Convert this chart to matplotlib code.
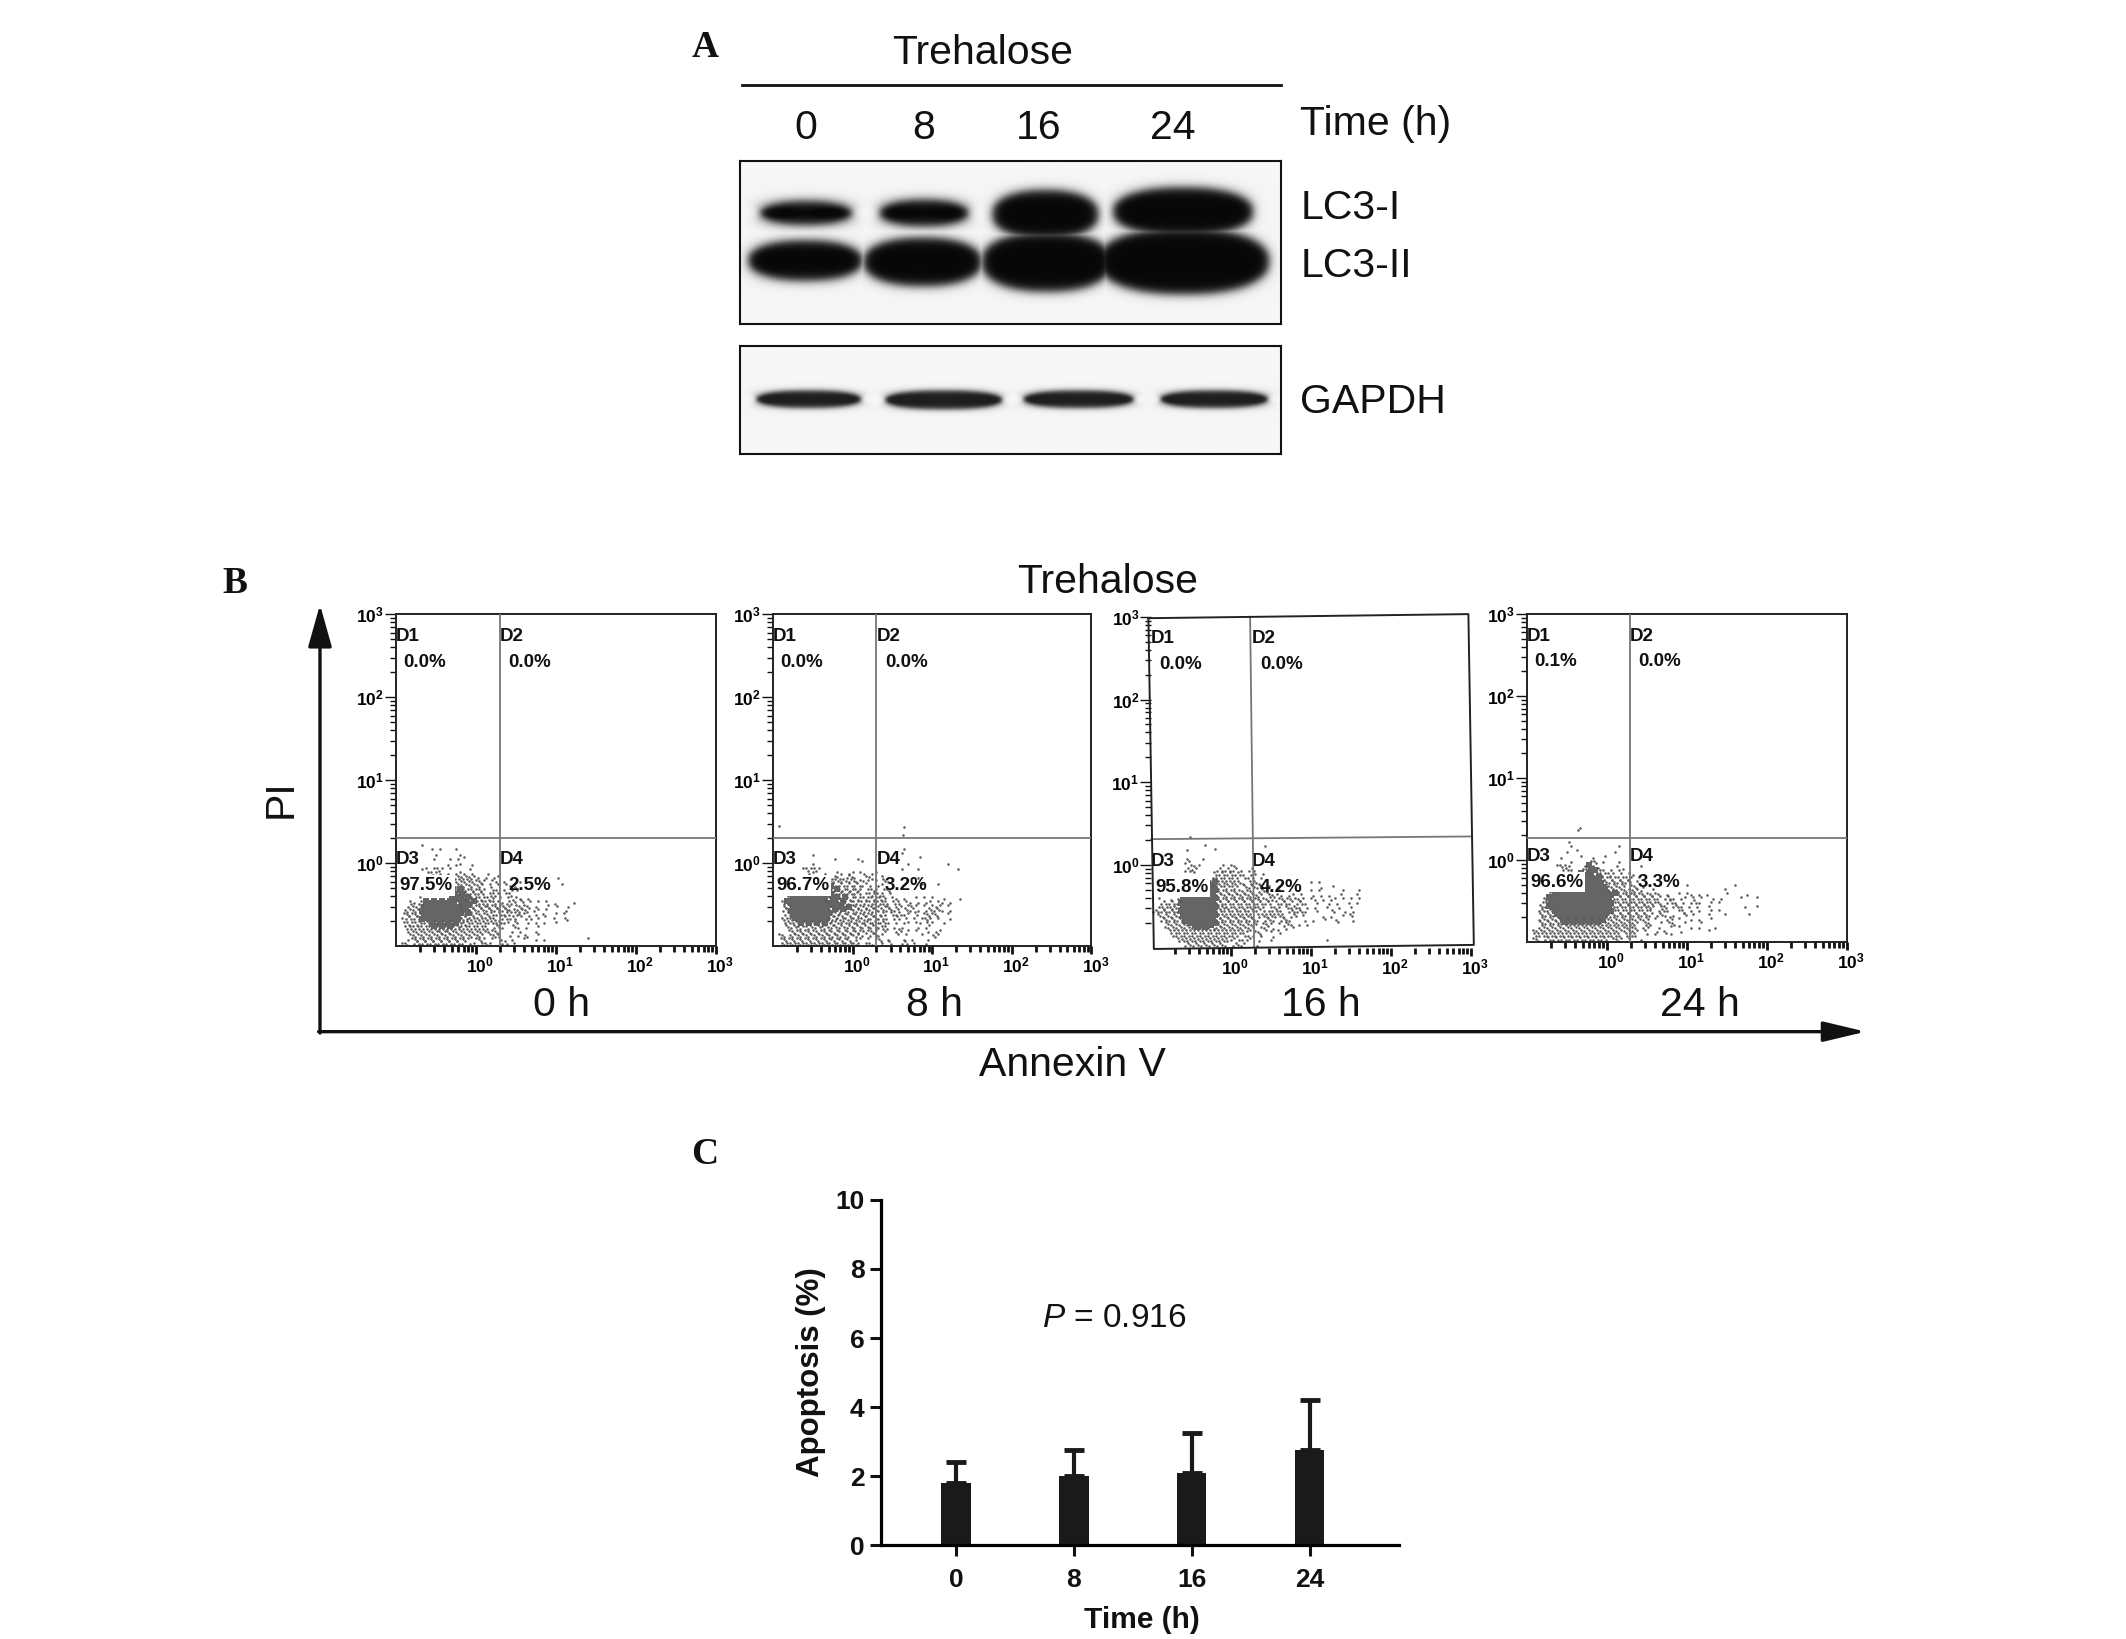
import numpy as np
import matplotlib
matplotlib.use("Agg")
import matplotlib.pyplot as plt
from matplotlib.lines import Line2D
from matplotlib.ticker import LogLocator, FixedFormatter, NullFormatter, FixedLocator
from matplotlib.transforms import ScaledTranslation

plt.rcParams['font.family'] = ['Liberation Sans', 'DejaVu Sans']
plt.rcParams['mathtext.fontset'] = 'custom'
plt.rcParams['mathtext.bf'] = 'Liberation Sans:bold'
plt.rcParams['mathtext.rm'] = 'Liberation Sans'
plt.rcParams['mathtext.it'] = 'Liberation Sans:italic'

# ---------- Data ----------
blot_lanes = ['0', '8', '16', '24']
time_label = 'Time (h)'
# band extents on the blot, in the shrunk image's pixel units
lc3i_left = [561, 649, 732, 821]
lc3i_right = [628, 714, 810, 924]
lc3i_top = [148, 147, 140, 138]
lc3i_bottom = [166, 167, 176, 174]
lc3ii_left = [552, 637, 724, 810]
lc3ii_right = [636, 724, 820, 936]
lc3ii_top = [177, 175, 171, 168]
lc3ii_bottom = [207, 211, 215, 217]
gapdh_left = [558, 653, 755, 856]
gapdh_right = [635, 739, 836, 935]
gapdh_top = [288, 288, 288, 288]
gapdh_bottom = [301, 302, 301, 301]

flow_titles = ['0 h', '8 h', '16 h', '24 h']
d1_pct = ['0.0%', '0.0%', '0.0%', '0.1%']
d2_pct = ['0.0%', '0.0%', '0.0%', '0.0%']
d3_pct = ['97.5%', '96.7%', '95.8%', '96.6%']
d4_pct = ['2.5%', '3.2%', '4.2%', '3.3%']
gate_x = [2.0, 2.0, 1.8, 1.94]
gate_y = [2.0, 2.02, 2.1, 1.87]

# scatter maps: one row per 0.05 decade of PI, one column per 0.05 decade of Annexin V
# '.' one event, ':' two events, '#' a saturated cell
map_0h = [
 "      .",
 "        . .   .",
 "",
 "         .     ..",
 "         .   . .",
 "            . ..  .",
 "      .. .:. .    .",
 "       .:.. . ... .   .",
 "             .:.:.:.. . ..              .",
 "             :.:.:..:. .. .   .",
 "             ::.:.:.:. . . ..            .",
 "             #:#:.:.:. :. . .:",
 "             ##:#:.:.: .:. .:",
 "     .       ###:#:.:.:: . . .. .",
 "   .. :########:##:#:.:.:.. :: : . . .      .",
 "  .:.:#########:##:.:::.:.:: .:.: .  . :  .",
 "  :.:.##########:#::.:.:.:.::.:.: .. .    .",
 " .:.:.##########:#:.:.::.:.: ::.  . :  . .",
 " ..:.:##########:::.:.:.: .:.:  .: .   .  :",
 " .:.::.:#:#:#:#:::.:.:.:.:.. :  . . .  .",
 "  :.:.:.:#:#:#:::.:.:.: .:.  :. .  .",
 "  .:.:.:.:::::.:.:.:.:..:   . .   .",
 "   .:.:.:.:.:.:.:.:.:. .:.  . . :  .",
 "  ..:.:.:.:.:.:.:. .:. . :  .  .  . .          .",
 " .: .:.:.:.:.:.:. .. .:.  .: .",
]
map_8h = [
 "",
 "                                .",
 "                                .",
 "         .                          .",
 "               .     ..",
 "         .                       .         .",
 "       .:.:.                    .   .         .",
 "        ..  .  .. .. .. ..",
 "             .:.: .:.  .:  .        .",
 "             :.:.:.:..:. . :.",
 "             :#:.:.:.:. . ..         .   .",
 "             #:#:.:.:. .:. .:",
 "             ##:.:.:.: .:.:. .",
 "  .:#########.##:#:.:.:.:.:: .. .  . . .  .   .",
 "  :##########:##:#:.:.:.:.:.: :. .. . .. .. .",
 "  ::##########:##:#.:.:.:: :: .: .:. . ... .",
 "  .:##########:#:#:.:.:.::.:.:.. :. . .:.:. .",
 "  .:##########:::.:.:.:.: .: :.:.. : .:.:  .",
 "  :.:#########:::.:.:.::.:.:. .: . . .:. .  .",
 "  .:.:#:#:#:#:::.:.:.:.:.:.:. . .. .. :.  .",
 "   :.::.::.:::.:.:.:.:.:.:..: . .   . .",
 "   .:.:.:.:.:.:.:.:.:.:.:. :  .: . .  . ..",
 " .: :.:.:.:.:.:.:.:.:.. .:..   . .   .  :.",
 " .:.:.:.:.:.:.:.:.: .. . .: .   . .   .",
 "  :.:.:.:.:.:.:.:.:.:. .:  . :  .: .  .",
]
map_16h = [
 "             .              .",
 "        .      .",
 "",
 "        .   .",
 "        ..",
 "         .:.     . .:",
 "        .::     .:.:. . .:",
 "               :.:.:.:. .. .",
 "              :.:.:.:. .:. .",
 "             ::#.:.:.:. .:.            . .",
 "             :##:.:.:. :.:.: .            .  .",
 "             ###:.:.:.:.: .:.. .       . .     .   .",
 "             ###:.:.:.:.:.:. .:.. .. .  . . .  .   .",
 " .  . :#########:.:.:.:.:.:.:: .:.:.:. .. . .. . . .",
 "  .:.:.#########::.:.:.:.:.:.: :.:. .:.  .  . .  . .",
 " .:.::.#########:::.:.:.:.:. .:. :.:. . .  .  .  .",
 ".:.:.:.#########:.:.:.:.:.: :.:.: .:.:.  .   :  . .",
 " :.:.:.#########::.:.:.:. .:.:.:. .: .    . .  . :",
 "  .:.:.:########::.:.:.:.:. .:. .:.   . .  .  :   .",
 "   :.:.:.#######::.:.:.:.: .:. . :. . .",
 "   .:.:.:.:#:#:::.:.:.:.:. .: .  : .",
 "    .:.:.:.:.:.:.:.:.:.. .:  . :",
 "     .:.:.:.:.:.:.:.:. .:. .  .",
 "      .:.:.:.:.:.:.. .:.  .  .             .",
 "        .:.:.:.:.:. .:.   .",
]
map_24h = [
 "          .",
 "          .           .",
 "            .",
 "         .           .",
 "        .    .  .  .",
 "          .    .: .   .",
 "       .:..   .#.     .     .",
 "        .:.  .:##:. . ..",
 "             ###:.:.:. . ..",
 "             #####:.:.:.:. .",
 "             ######:.:.:.: .",
 "             ######:.:.: .: .          .           .",
 "             #######:.:.:.:..  .                 .",
 "    .:################:.:.:.:.:.: .  . .. . .    .    .",
 "    :################:.:.:.:.:.:. .:. .. . .  . .    .   .",
 "   .:################.:.:.:.:.:.: .:. . .:.  . .",
 "   :.################:.:.:.:.::. .: .:. . .  .        .  .",
 "  .:.:###############.:.:.:.:.: .:.  .: . .  . .",
 "   :.:.#############::.:.:.:.:. .:. .  : .   .   .     .",
 "  .:.:.:#:#:#:#:#:#:.:.:.:.:.: .  .: .  . .  .",
 "   :.:.:.#:#:#:#:#:.:.:.:.:. .:  . .:  .   .",
 "  .:.:.:.:.:.:.:.:.:.:.:.:. .:  .  . .  . .   .",
 " .:.:.:.:.:.:.:.:.:.:.:.:.:. .  . :   .      .",
 " :.:.:.:.:.:.:.:.:.:.:. .:.  . .   .",
 " .: .:.:.:.:.:.:.:.: .:. .  .",
]
maps = [map_0h, map_8h, map_16h, map_24h]
# events above the gate (Annexin V, PI)
above_x = [[], [4.3, 4.4, 0.12], [0.31], [0.46, 0.44]]
above_y = [[], [2.2, 2.7, 2.8], [2.15], [2.5, 2.35]]

groups = ['0', '8', '16', '24']
apoptosis = [1.8, 2.0, 2.1, 2.75]
apoptosis_top = [2.4, 2.75, 3.25, 4.2]
ytick_vals = [0, 2, 4, 6, 8, 10]

# ---------- Layout helpers (shrunk-image pixel coordinates) ----------
W, H = 1568.0, 1209.0
fig = plt.figure(figsize=(21.26, 16.39), dpi=100, facecolor='white')

def rect(x0, y0, x1, y1):
    return [x0 / W, 1 - y1 / H, (x1 - x0) / W, (y1 - y0) / H]

def ftext(x, y, s, **kw):
    kw.setdefault('ha', 'center')
    kw.setdefault('va', 'center')
    return fig.text(x / W, 1 - (y + 2.3) / H, s, **kw)

def fline(xs, ys, **kw):
    fig.add_artist(Line2D([x / W for x in xs], [1 - y / H for y in ys],
                          transform=fig.transFigure, **kw))

BIG = 29.5
for s, x, y in [('A', 520, 33), ('B', 173, 428), ('C', 520, 849)]:
    ftext(x, y, s, family='Liberation Serif', weight='bold', fontsize=27, color='#111111')

# ---------- Panel A ----------
def blot(x0, y0, x1, y1, lefts, rights, tops, bottoms, power, soft, dark, bg=0.965):
    ax = fig.add_axes(rect(x0, y0, x1, y1))
    step = 0.5
    gx, gy = np.meshgrid(np.arange(x0, x1, step), np.arange(y0, y1, step))
    d = np.zeros_like(gx)
    for l, r, t, b in zip(lefts, rights, tops, bottoms):
        a, c = (r - l) / 2, (b - t) / 2
        f = ((np.abs(gx - (l + r) / 2) / a) ** power + (np.abs(gy - (t + b) / 2) / c) ** power) ** (1 / power)
        gyf, gxf = np.gradient(f, step)
        dist = (f - 1) / np.maximum(np.hypot(gxf, gyf), 1e-3)
        d = np.maximum(d, 1 / (1 + np.exp(np.clip(dist / soft, -30, 30))))
    img = bg - (bg - dark) * d
    ax.imshow(img, cmap='gray', vmin=0, vmax=1, extent=(x0, x1, y1, y0), aspect='auto',
              interpolation='bilinear')
    ax.set_xticks([])
    ax.set_yticks([])
    for sp in ax.spines.values():
        sp.set_linewidth(1.5)
        sp.set_color('#111111')
    return ax

ftext(725, 37, 'Trehalose', fontsize=BIG, color='#111111')
fline([547, 945], [63, 63], color='#111111', lw=2.0)
for s, x in zip(blot_lanes, [594, 681, 766, 865]):
    ftext(x, 92, s, fontsize=BIG, color='#111111')
ftext(959, 89, time_label, fontsize=BIG, ha='left', color='#111111')

blot(546, 119, 945, 239,
     lc3i_left + lc3ii_left, lc3i_right + lc3ii_right,
     lc3i_top + lc3ii_top, lc3i_bottom + lc3ii_bottom, 2.3, 2.0, 0.03)
blot(546, 255, 945, 335, gapdh_left, gapdh_right, gapdh_top, gapdh_bottom, 2.5, 1.1, 0.12)
ftext(959, 151, 'LC3-I', fontsize=BIG, ha='left', color='#111111')
ftext(959, 194, 'LC3-II', fontsize=BIG, ha='left', color='#111111')
ftext(959, 294, 'GAPDH', fontsize=BIG, ha='left', color='#111111')

# ---------- Panel B ----------
ftext(817, 427, 'Trehalose', fontsize=BIG, color='#111111')
ftext(207, 587, 'PI', fontsize=BIG, rotation=90, color='#111111')
ftext(791, 783, 'Annexin V', fontsize=BIG, color='#111111')
arrow_ax = fig.add_axes([0, 0, 1, 1], facecolor='none')
arrow_ax.set_xlim(0, W); arrow_ax.set_ylim(H, 0); arrow_ax.axis('off')
arrow_ax.annotate('', xy=(236, 446), xytext=(236, 762),
                  arrowprops=dict(arrowstyle='-|>,head_length=2.6,head_width=0.73', lw=2.4, color='#111111', shrinkA=0, shrinkB=0))
arrow_ax.annotate('', xy=(1376, 761), xytext=(235, 761),
                  arrowprops=dict(arrowstyle='-|>,head_length=2.6,head_width=0.62', lw=2.4, color='#111111', shrinkA=0, shrinkB=0))

panel_boxes = [(292, 453, 528, 698), (570, 453, 805, 698), (849, 455, 1085, 699), (1126, 453, 1362, 695)]
title_x = [414, 689, 974, 1254]
decades = [1, 10, 100, 1000]
dec_labels = [r'$\mathbf{10^{0}}$', r'$\mathbf{10^{1}}$', r'$\mathbf{10^{2}}$', r'$\mathbf{10^{3}}$']
TILTED = 2

for i, box in enumerate(panel_boxes):
    ax = fig.add_axes(rect(*box), facecolor='none')
    ax.set_xscale('log'); ax.set_yscale('log')
    ax.set_xlim(0.1, 1000); ax.set_ylim(0.1, 1000)
    px, py, cx, cy = [], [], [], []
    for r, row in enumerate(maps[i]):
        for c, ch in enumerate(row):
            lx = -0.975 + 0.05 * c + (0.025 if r % 2 else 0)
            ly = 0.225 - 0.05 * r + (0.02 if c % 2 else 0)
            if ch == '.':
                px.append(10 ** lx); py.append(10 ** ly)
            elif ch == ':':
                px += [10 ** (lx - 0.014), 10 ** (lx + 0.014)]
                py += [10 ** (ly + 0.014), 10 ** (ly - 0.014)]
            elif ch == '#':
                cx.append(10 ** lx); cy.append(10 ** ly)
    ax.scatter(cx, cy, s=17, marker='s', color='#656565', linewidths=0, zorder=2)
    ax.scatter(px + above_x[i], py + above_y[i], s=3.4, marker='o', color='#5c5c5c', linewidths=0, zorder=2)
    if i != TILTED:
        ax.axvline(gate_x[i], color='#777777', lw=1.3, zorder=3)
        ax.axhline(gate_y[i], color='#777777', lw=1.3, zorder=3)
    else:
        fline([922, 925], [455, 698], color='#777777', lw=1.3)
        fline([849, 1085], [619, 617], color='#777777', lw=1.3)

    ax.xaxis.set_major_locator(FixedLocator(decades))
    ax.yaxis.set_major_locator(FixedLocator(decades))
    ax.xaxis.set_major_formatter(FixedFormatter(dec_labels))
    ax.yaxis.set_major_formatter(FixedFormatter(dec_labels))
    ax.xaxis.set_minor_locator(LogLocator(base=10, subs=range(2, 10), numticks=12))
    ax.yaxis.set_minor_locator(LogLocator(base=10, subs=range(2, 10), numticks=12))
    ax.xaxis.set_minor_formatter(NullFormatter())
    ax.yaxis.set_minor_formatter(NullFormatter())
    ax.tick_params(axis='x', which='major', length=5.5, width=2.0, labelsize=12.5, pad=1.5, color='#111111')
    ax.tick_params(axis='x', which='minor', length=4.5, width=2.0, color='#111111')
    ax.tick_params(axis='y', which='major', length=8, width=1.0, labelsize=12.5, pad=0.5, color='#111111')
    ax.tick_params(axis='y', which='minor', length=4, width=1.0, color='#111111')
    for lab in ax.get_xticklabels():
        lab.set_transform(lab.get_transform() + ScaledTranslation(3 / 72, 0, fig.dpi_scale_trans))
    for sp in ax.spines.values():
        sp.set_linewidth(1.4)
        sp.set_color('#222222')
        if i == TILTED:
            sp.set_visible(False)
    if i == TILTED:
        fline([847, 1083, 1087, 851, 847], [456, 453, 697, 700, 456], color='#222222', lw=1.4)

    tkw = dict(weight='bold', fontsize=13.5, transform=ax.transAxes,
               ha='left', va='center', color='#111111', zorder=5)
    gate_ax = (np.log10(gate_x[i]) + 1) / 4
    ax.text(0.0, 0.933, 'D1', **tkw)
    ax.text(0.024, 0.855, d1_pct[i], **tkw)
    ax.text(gate_ax, 0.933, 'D2', **tkw)
    ax.text(gate_ax + 0.026, 0.855, d2_pct[i], **tkw)
    ax.text(0.0, 0.26, 'D3', **tkw)
    ax.text(0.012, 0.183, d3_pct[i], bbox=dict(facecolor='white', edgecolor='none', pad=1.2), **tkw)
    ax.text(gate_ax, 0.26, 'D4', **tkw)
    ax.text(gate_ax + 0.026, 0.183, d4_pct[i], **tkw)
    ftext(title_x[i], 739, flow_titles[i], fontsize=BIG, color='#111111')

# ---------- Panel C ----------
axc = fig.add_axes(rect(650, 885, 1032, 1140))
pos = np.arange(len(groups))
upper = np.array(apoptosis_top) - np.array(apoptosis)
axc.bar(pos, apoptosis, width=0.25, color='#1a1a1a', zorder=2)
axc.errorbar(pos, apoptosis, yerr=[np.zeros(4), upper], fmt='none', ecolor='#1a1a1a',
             elinewidth=3.0, capsize=7.5, capthick=3.5, zorder=2)
axc.set_xlim(-0.632, 3.76)
axc.set_ylim(0, 10)
axc.set_xticks(pos)
axc.set_xticklabels(groups, fontsize=19, weight='bold', color='#111111')
axc.set_yticks(ytick_vals)
axc.set_yticklabels([str(v) for v in ytick_vals], fontsize=19, weight='bold', color='#111111')
axc.tick_params(axis='y', length=8, width=2.2, color='#111111', pad=4)
axc.tick_params(axis='x', length=8, width=2.2, color='#111111', pad=8)
axc.spines['top'].set_visible(False)
axc.spines['right'].set_visible(False)
axc.spines['left'].set_linewidth(2.3)
axc.spines['bottom'].set_linewidth(2.3)
ftext(598, 1010, 'Apoptosis (%)', fontsize=22.5, weight='bold', rotation=90, color='#111111')
ftext(842, 1193, time_label, fontsize=21.5, weight='bold', color='#111111')
ftext(822, 970, r'$\mathit{P}$ = 0.916', fontsize=24, color='#111111')

fig.savefig('out.png', dpi=100, facecolor='white')
